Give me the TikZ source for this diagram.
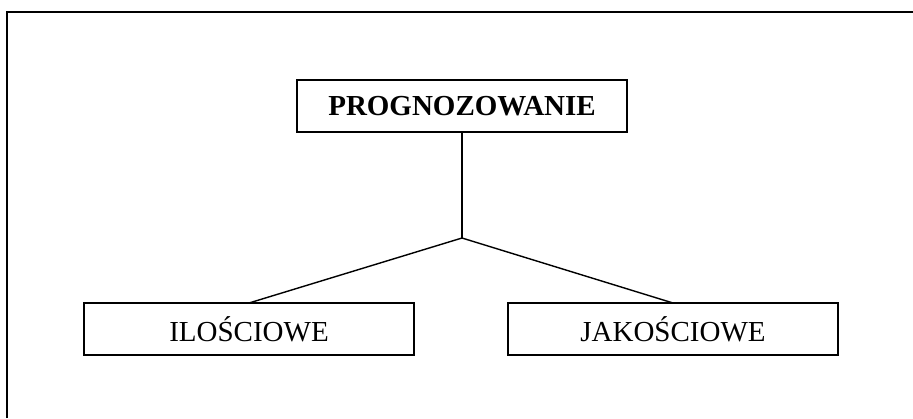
\documentclass[tikz,border=0pt]{standalone}
\usepackage{fontspec}
\setmainfont{Liberation Serif}
\tikzset{box/.style={draw, line width=0.8pt, minimum width=6.6cm, minimum height=1.04cm, inner sep=0pt, outer sep=0pt, font=\fontsize{16.5}{20}\selectfont}}
\begin{document}
\begin{tikzpicture}
		\useasboundingbox (0,0) rectangle (18.26,8.36);
		\draw [line width=1.2pt](0.14,0)--(0.14,8.12)--(18.26,8.12);
		\node [box](p)at (9.24,6.24) {\textbf{PROGNOZOWANIE}};
		\node [box](i)at (4.98,1.78) {ILOŚCIOWE};
		\node [box](j)at (13.46,1.78) {JAKOŚCIOWE};
		\coordinate (s)at (9.24,3.6);
		\draw [line width=0.8pt](p.south)--(s);
		\draw [line width=0.8pt](s)--(i.north);
		\draw [line width=0.8pt](s)--(j.north);
	\end{tikzpicture}
\end{document}
